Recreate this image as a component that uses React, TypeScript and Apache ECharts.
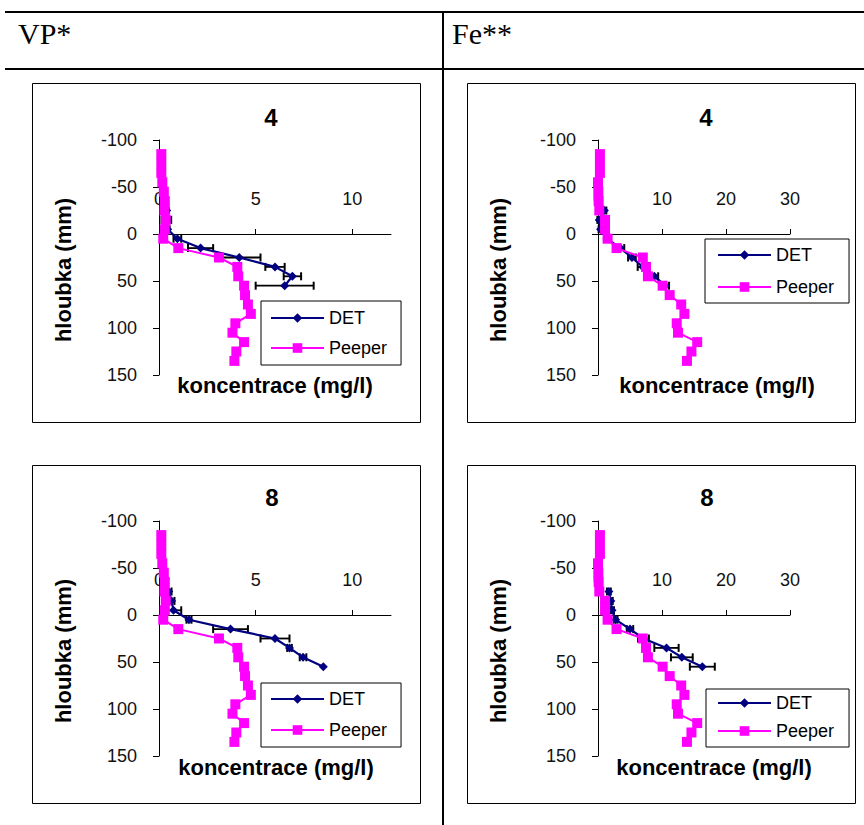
import React, { useEffect, useRef } from "react";
import * as echarts from "echarts";

// ---------- data ----------
const peeperDepth = [-85, -75, -65, -55, -45, -35, -25, -15, -5, 5, 15, 25, 35, 45, 55, 65, 75, 85, 95, 105, 115, 125, 135];
const detDepth = [-25, -15, -5, 5, 15, 25, 35, 45, 55];

const vpPeeper = [0.12, 0.12, 0.12, 0.17, 0.25, 0.3, 0.28, 0.35, 0.3, 0.22, 1.0, 3.1, 4.05, 4.1, 4.4, 4.45, 4.6, 4.75, 3.95, 3.8, 4.4, 4.0, 3.9];
const fePeeper = [0.3, 0.3, 0.3, 0.0, 0.05, 0.1, 0.2, 1.1, 1.1, 1.5, 2.9, 7.0, 7.5, 7.8, 10.1, 11.2, 13.0, 13.5, 12.3, 12.5, 15.5, 14.6, 13.9];

const vpDet4 = [0.4, 0.38, 0.45, 0.95, 2.15, 4.15, 6.0, 6.9, 6.5];
const vpDetErr4 = [0.1, 0.25, 0.1, 0.2, 0.65, 1.1, 0.5, 0.45, 1.5];
const feDet4 = [1.0, 0.2, 0.4, 1.4, 3.5, 5.3, 7.0, 8.8, 10.5];
const feDetErr4 = [0.3, 0.3, 0.3, 0.3, 0.6, 0.6, 0.8, 0.6, 0.6];
const vpDet8 = [0.5, 0.65, 0.75, 1.55, 3.7, 6.0, 6.75, 7.45, 8.5];
const vpDetErr8 = [0.15, 0.15, 0.4, 0.13, 0.9, 0.75, 0.12, 0.17, 0];
const feDet8 = [1.7, 2.0, 2.2, 2.75, 5.0, 7.1, 10.7, 13.1, 16.3];
const feDetErr8 = [0.3, 0.3, 0.3, 0.3, 0.5, 0.85, 1.9, 1.7, 1.95];

const vpXTicks = [0, 5, 10];
const feXTicks = [0, 10, 20, 30];
const columnHeaders = ["VP*", "Fe**"];
const panelTitles = ["4", "4", "8", "8"];
const legendNames = ["DET", "Peeper"];
const xAxisTitle = "koncentrace (mg/l)";
const yAxisTitle = "hloubka (mm)";

// ---------- layout ----------
const FONT = '"Liberation Sans", Arial, sans-serif';
const SERIF = '"Liberation Serif", "Times New Roman", serif';
const DET_COLOR = "#000080";
const PEEPER_COLOR = "#FF00FF";
const Y_MIN = -100;
const Y_MAX = 150;

const panels = [
  {
    det: vpDet4, err: vpDetErr4, peeper: vpPeeper, xMax: 12, xInterval: 5, xTicks: vpXTicks,
    grid: { left: 159, top: 140, width: 232, height: 235 },
    box: [32, 83, 388, 339], title: [271, 117], yName: [63, 270], xName: [275, 385.5],
    legend: { left: 261, top: 301, padding: [8, 14, 8, 9], itemGap: 12 },
  },
  {
    det: feDet4, err: feDetErr4, peeper: fePeeper, xMax: 30, xInterval: 10, xTicks: feXTicks,
    grid: { left: 598, top: 140, width: 192, height: 235 },
    box: [467, 83, 388, 339], title: [706, 117], yName: [498, 270], xName: [717, 385.5],
    legend: { left: 705, top: 239, padding: [7, 15, 7, 12], itemGap: 14 },
  },
  {
    det: vpDet8, err: vpDetErr8, peeper: vpPeeper, xMax: 12, xInterval: 5, xTicks: vpXTicks,
    grid: { left: 159, top: 521, width: 232, height: 235 },
    box: [32, 465, 388, 338], title: [272, 497], yName: [63, 651], xName: [276, 767.5],
    legend: { left: 261, top: 683, padding: [7, 14, 8, 9], itemGap: 13 },
  },
  {
    det: feDet8, err: feDetErr8, peeper: fePeeper, xMax: 30, xInterval: 10, xTicks: feXTicks,
    grid: { left: 598, top: 521, width: 192, height: 235 },
    box: [467, 465, 388, 338], title: [707, 497], yName: [498, 651], xName: [714, 767.5],
    legend: { left: 706, top: 689, padding: [5, 15, 7, 11], itemGap: 10 },
  },
];

function buildOption() {
  const grid = panels.map((p) => ({ ...p.grid, containLabel: false }));

  const xAxis = panels.map((p, i) => ({
    type: "value",
    gridIndex: i,
    position: "top",
    // place the axis at depth 0 inside the grid
    offset: -(p.grid.height * (0 - Y_MIN)) / (Y_MAX - Y_MIN),
    min: 0,
    max: p.xMax,
    interval: p.xInterval,
    axisLine: { show: true, onZero: false, lineStyle: { color: "#000", width: 1 } },
    axisTick: { show: true, length: 5, customValues: p.xTicks, lineStyle: { color: "#000", width: 1 } },
    axisLabel: {
      customValues: p.xTicks,
      formatter: (v: number) => (v % p.xInterval === 0 ? String(v) : ""),
      margin: 26,
      fontSize: 18,
      fontFamily: FONT,
      color: "#111",
    },
    splitLine: { show: false },
  }));

  const yAxis = panels.map((p, i) => ({
    type: "value",
    gridIndex: i,
    inverse: true,
    min: Y_MIN,
    max: Y_MAX,
    interval: 50,
    axisLine: { show: true, onZero: false, lineStyle: { color: "#000", width: 1 } },
    axisTick: { show: true, length: 6, lineStyle: { color: "#000", width: 1 } },
    axisLabel: { margin: 22, fontSize: 18, fontFamily: FONT, color: "#111" },
    splitLine: { show: false },
  }));

  const series: any[] = [];
  panels.forEach((p, i) => {
    series.push({
      type: "custom",
      name: "err" + i,
      xAxisIndex: i,
      yAxisIndex: i,
      z: 1,
      silent: true,
      encode: { x: 0, y: 1 },
      data: detDepth.map((d, j) => [p.det[j], d, p.err[j]]),
      renderItem: (params: any, api: any) => {
        const x = api.value(0);
        const y = api.value(1);
        const e = api.value(2);
        if (!e) return { type: "group", children: [] };
        const a = api.coord([x - e, y]);
        const b = api.coord([x + e, y]);
        const cap = 4;
        const st = { stroke: "#000", lineWidth: 1.8 };
        return {
          type: "group",
          children: [
            { type: "line", shape: { x1: a[0], y1: a[1], x2: b[0], y2: b[1] }, style: st },
            { type: "line", shape: { x1: a[0], y1: a[1] - cap, x2: a[0], y2: a[1] + cap }, style: { ...st, lineWidth: 2 } },
            { type: "line", shape: { x1: b[0], y1: b[1] - cap, x2: b[0], y2: b[1] + cap }, style: { ...st, lineWidth: 2 } },
          ],
        };
      },
    });
    series.push({
      type: "line",
      name: legendNames[0],
      xAxisIndex: i,
      yAxisIndex: i,
      z: 2,
      data: detDepth.map((d, j) => [p.det[j], d]),
      symbol: "diamond",
      symbolSize: 9,
      showSymbol: true,
      lineStyle: { color: DET_COLOR, width: 2.2 },
      itemStyle: { color: DET_COLOR },
    });
    series.push({
      type: "line",
      name: legendNames[1],
      xAxisIndex: i,
      yAxisIndex: i,
      z: 3,
      data: peeperDepth.map((d, j) => [p.peeper[j], d]),
      symbol: "rect",
      symbolSize: 10,
      showSymbol: true,
      lineStyle: { color: PEEPER_COLOR, width: 2 },
      itemStyle: { color: PEEPER_COLOR },
    });
  });

  const legend = panels.map((p) => ({
    data: legendNames,
    orient: "vertical",
    left: p.legend.left,
    top: p.legend.top,
    padding: p.legend.padding,
    itemGap: p.legend.itemGap,
    itemWidth: 53,
    itemHeight: 12,
    borderColor: "#000",
    borderWidth: 1,
    backgroundColor: "#fff",
    selectedMode: false,
    textStyle: { fontSize: 18, color: "#000", fontFamily: FONT },
  }));

  const title = panels.map((p, i) => ({
    text: panelTitles[i],
    left: p.title[0],
    top: p.title[1],
    textAlign: "center",
    textVerticalAlign: "middle",
    padding: 0,
    textStyle: { fontSize: 24, fontWeight: "bold", color: "#000", fontFamily: FONT },
  }));

  const graphic: any[] = [
    { type: "line", shape: { x1: 5, y1: 12, x2: 864, y2: 12 }, style: { stroke: "#000", lineWidth: 2 } },
    { type: "line", shape: { x1: 5, y1: 69, x2: 864, y2: 69 }, style: { stroke: "#000", lineWidth: 2 } },
    { type: "line", shape: { x1: 443, y1: 11, x2: 443, y2: 825 }, style: { stroke: "#000", lineWidth: 2 } },
    { type: "text", x: 18, y: 33, style: { text: columnHeaders[0], font: `30px ${SERIF}`, fill: "#000", verticalAlign: "middle" } },
    { type: "text", x: 452, y: 33, style: { text: columnHeaders[1], font: `30px ${SERIF}`, fill: "#000", verticalAlign: "middle" } },
  ];
  panels.forEach((p) => {
    graphic.push({
      type: "rect",
      shape: { x: p.box[0] + 0.5, y: p.box[1] + 0.5, width: p.box[2], height: p.box[3] },
      style: { fill: "none", stroke: "#000", lineWidth: 1 },
      z: -1,
    });
    graphic.push({
      type: "text",
      x: p.yName[0],
      y: p.yName[1],
      rotation: Math.PI / 2,
      style: { text: yAxisTitle, font: `bold 22px ${FONT}`, fill: "#000", align: "center", verticalAlign: "middle" },
    });
    graphic.push({
      type: "text",
      x: p.xName[0],
      y: p.xName[1],
      style: { text: xAxisTitle, font: `bold 22px ${FONT}`, fill: "#000", align: "center", verticalAlign: "middle" },
    });
  });

  return {
    animation: false,
    backgroundColor: "#fff",
    title,
    grid,
    xAxis,
    yAxis,
    legend,
    series,
    graphic,
  };
}

export default function App() {
  const ref = useRef<HTMLDivElement>(null);
  useEffect(() => {
    if (!ref.current) return;
    const chart = echarts.init(ref.current, undefined, { renderer: "svg" });
    chart.setOption(buildOption() as any);
    return () => chart.dispose();
  }, []);
  return (
    <div
      ref={ref}
      style={{ position: "absolute", left: 0, top: 0, width: 864, height: 825, background: "#fff" }}
    />
  );
}
